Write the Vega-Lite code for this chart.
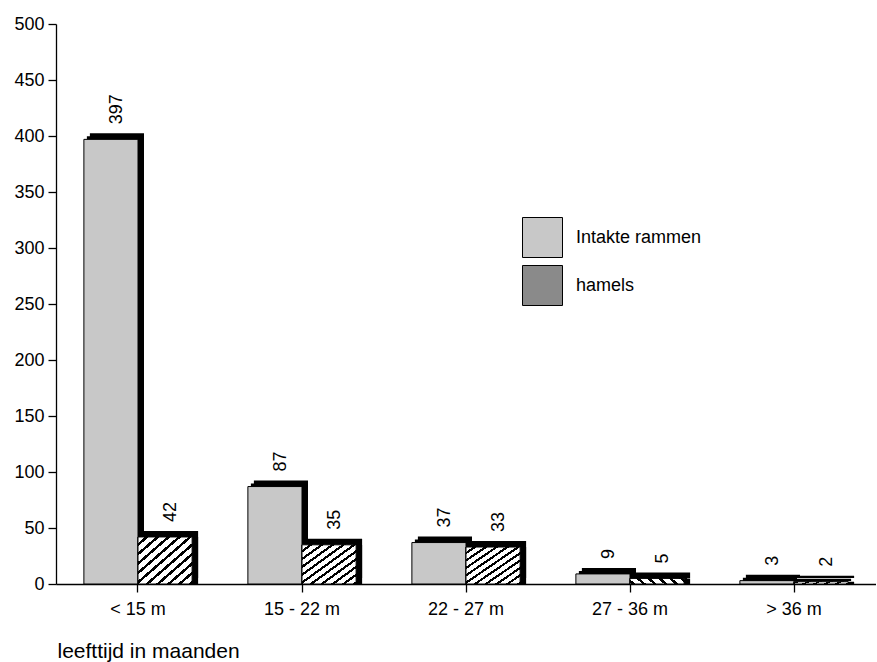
{
  "$schema": "https://vega.github.io/schema/vega-lite/v6.json",
  "width": 820,
  "height": 560,
  "autosize": {"type": "none"},
  "padding": {"left": 56, "top": 24, "right": 0, "bottom": 78},
  "background": "white",
  "config": {
    "view": {"stroke": null},
    "font": "Liberation Sans",
    "axis": {
      "grid": false,
      "domainColor": "black",
      "domainWidth": 1.3,
      "tickColor": "black",
      "tickWidth": 1.3,
      "labelColor": "black",
      "labelFont": "Liberation Sans",
      "labelFontSize": 18,
      "titleFont": "Liberation Sans",
      "titleFontSize": 21,
      "titleFontWeight": "normal",
      "titleColor": "black"
    },
    "legend": {
      "orient": "none",
      "legendX": 466,
      "legendY": 193,
      "padding": 0,
      "symbolType": "square",
      "symbolSize": 1600,
      "symbolStrokeColor": "black",
      "symbolStrokeWidth": 1,
      "symbolOpacity": 1,
      "labelFont": "Liberation Sans",
      "labelFontSize": 18,
      "labelColor": "black",
      "labelOffset": 13,
      "rowPadding": 3
    }
  },
  "data": {
    "values": [
      {"cat": "< 15 m", "series": "Intakte rammen", "value": 397},
      {"cat": "< 15 m", "series": "hamels", "value": 42},
      {"cat": "15 - 22 m", "series": "Intakte rammen", "value": 87},
      {"cat": "15 - 22 m", "series": "hamels", "value": 35},
      {"cat": "22 - 27 m", "series": "Intakte rammen", "value": 37},
      {"cat": "22 - 27 m", "series": "hamels", "value": 33},
      {"cat": "27 - 36 m", "series": "Intakte rammen", "value": 9},
      {"cat": "27 - 36 m", "series": "hamels", "value": 5},
      {"cat": "> 36 m", "series": "Intakte rammen", "value": 3},
      {"cat": "> 36 m", "series": "hamels", "value": 2}
    ]
  },
  "encoding": {
    "x": {
      "field": "cat",
      "type": "nominal",
      "sort": ["< 15 m", "15 - 22 m", "22 - 27 m", "27 - 36 m", "> 36 m"],
      "scale": {"paddingInner": 0.34, "paddingOuter": 0.17},
      "axis": {
        "labelAngle": 0,
        "tickSize": 8,
        "labelPadding": 8,
        "title": "leefttijd in maanden",
        "titleAnchor": "start",
        "titleAlign": "left",
        "titleX": 1,
        "titleY": 73,
        "titleBaseline": "alphabetic"
      }
    },
    "y": {
      "field": "value",
      "type": "quantitative",
      "scale": {"domain": [0, 500], "nice": false},
      "axis": {
        "title": null,
        "values": [0, 50, 100, 150, 200, 250, 300, 350, 400, 450, 500],
        "tickSize": 8,
        "labelPadding": 4
      }
    }
  },
  "resolve": {"scale": {"xOffset": "independent"}},
  "layer": [
    {
      "mark": {"type": "bar", "fill": "black", "yOffset": -6},
      "encoding": {
        "xOffset": {"field": "series", "type": "nominal", "scale": {"domain": ["Intakte rammen", "hamels"], "range": [6, 114.24]}}
      }
    },
    {
      "mark": {"type": "bar", "fill": "black"},
      "encoding": {
        "xOffset": {"field": "series", "type": "nominal", "scale": {"domain": ["Intakte rammen", "hamels"], "range": [6, 114.24]}}
      }
    },
    {
      "mark": {"type": "bar", "fill": "black", "yOffset": -3},
      "encoding": {
        "xOffset": {"field": "series", "type": "nominal", "scale": {"domain": ["Intakte rammen", "hamels"], "range": [3, 111.24]}}
      }
    },
    {
      "mark": {"type": "bar", "stroke": "black", "strokeWidth": 1},
      "encoding": {
        "xOffset": {"field": "series", "type": "nominal", "scale": {"domain": ["Intakte rammen", "hamels"]}},
        "fill": {
          "field": "series",
          "type": "nominal",
          "scale": {"domain": ["Intakte rammen", "hamels"], "range": ["#c8c8c8", "#8a8a8a"]},
          "legend": {"title": null}
        }
      }
    },
    {
      "transform": [{"filter": "datum.series === 'hamels'"}],
      "mark": {
        "type": "bar",
        "stroke": "black",
        "strokeWidth": 1,
        "fill": {
          "gradient": "linear",
          "x1": 0, "y1": 0, "x2": 1, "y2": 1,
          "stops": [
            {"offset": 0, "color": "white"}, {"offset": 0.065, "color": "white"}, {"offset": 0.065, "color": "black"}, {"offset": 0.1, "color": "black"},
            {"offset": 0.1, "color": "white"}, {"offset": 0.165, "color": "white"}, {"offset": 0.165, "color": "black"}, {"offset": 0.2, "color": "black"},
            {"offset": 0.2, "color": "white"}, {"offset": 0.265, "color": "white"}, {"offset": 0.265, "color": "black"}, {"offset": 0.3, "color": "black"},
            {"offset": 0.3, "color": "white"}, {"offset": 0.365, "color": "white"}, {"offset": 0.365, "color": "black"}, {"offset": 0.4, "color": "black"},
            {"offset": 0.4, "color": "white"}, {"offset": 0.465, "color": "white"}, {"offset": 0.465, "color": "black"}, {"offset": 0.5, "color": "black"},
            {"offset": 0.5, "color": "white"}, {"offset": 0.565, "color": "white"}, {"offset": 0.565, "color": "black"}, {"offset": 0.6, "color": "black"},
            {"offset": 0.6, "color": "white"}, {"offset": 0.665, "color": "white"}, {"offset": 0.665, "color": "black"}, {"offset": 0.7, "color": "black"},
            {"offset": 0.7, "color": "white"}, {"offset": 0.765, "color": "white"}, {"offset": 0.765, "color": "black"}, {"offset": 0.8, "color": "black"},
            {"offset": 0.8, "color": "white"}, {"offset": 0.865, "color": "white"}, {"offset": 0.865, "color": "black"}, {"offset": 0.9, "color": "black"},
            {"offset": 0.9, "color": "white"}, {"offset": 0.965, "color": "white"}, {"offset": 0.965, "color": "black"}, {"offset": 1, "color": "black"}
          ]
        }
      },
      "encoding": {
        "xOffset": {"field": "series", "type": "nominal", "scale": {"domain": ["Intakte rammen", "hamels"]}}
      }
    },
    {
      "mark": {
        "type": "text",
        "angle": 270,
        "align": "left",
        "baseline": "middle",
        "yOffset": -15,
        "font": "Liberation Sans",
        "fontSize": 18,
        "color": "black"
      },
      "encoding": {
        "xOffset": {"field": "series", "type": "nominal", "scale": {"domain": ["Intakte rammen", "hamels"], "range": [6, 114.24]}},
        "text": {"field": "value", "type": "quantitative"}
      }
    }
  ]
}
